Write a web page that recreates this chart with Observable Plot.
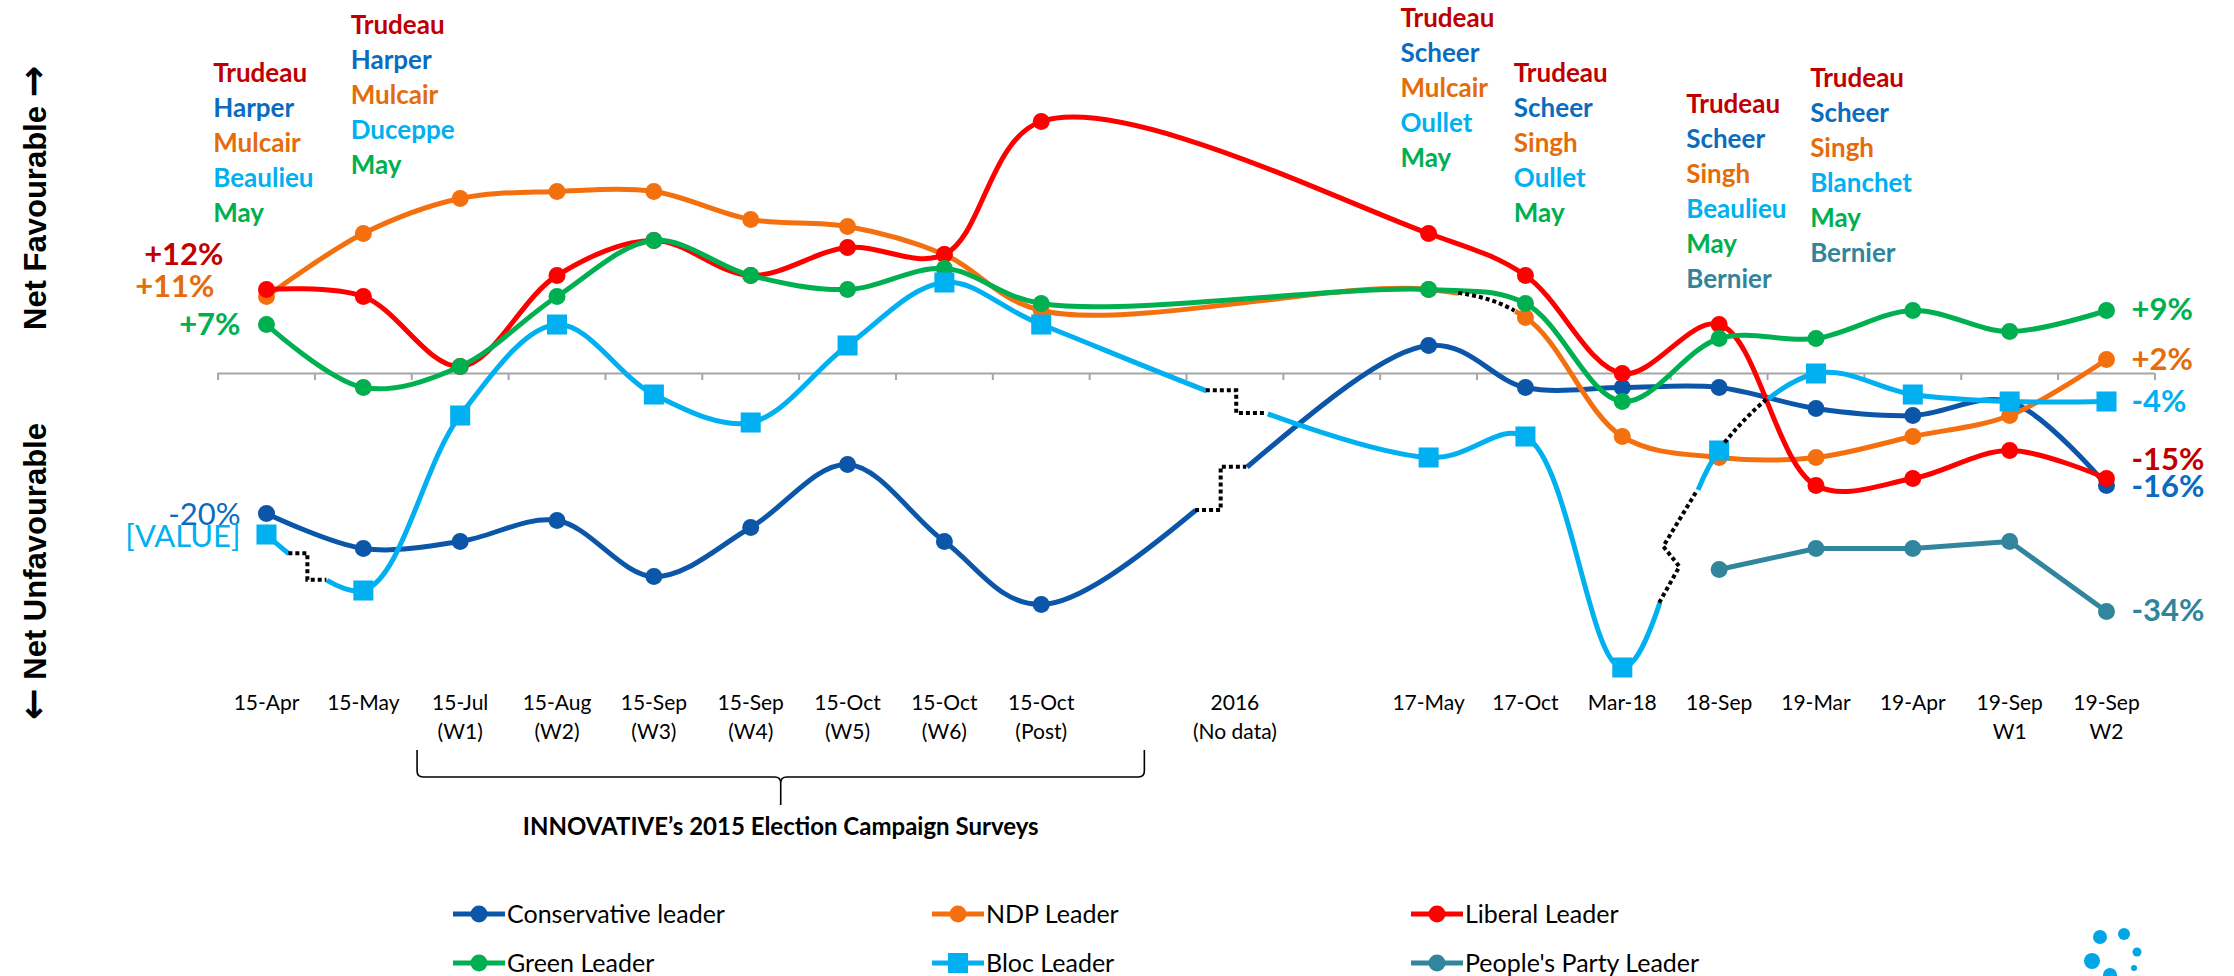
<!DOCTYPE html>
<html><head><meta charset="utf-8">
<script src="https://cdn.jsdelivr.net/npm/d3@7"></script>
<script src="https://cdn.jsdelivr.net/npm/@observablehq/plot@0.6"></script>
<style>
body{margin:0;background:#fff;width:2234px;height:976px;overflow:hidden;font-family:Lato,sans-serif;}
#chart svg{display:block;}
#legend{position:relative;height:106px;}
.item{position:absolute;display:flex;align-items:center;font-size:25px;color:#000;line-height:1;}
.item svg{display:block;}
</style></head><body>
<div id="chart"></div>
<div id="legend"></div>
<script>
// ---- categories (x) ----
const categories = ["15-Apr","15-May","15-Jul\n(W1)","15-Aug\n(W2)","15-Sep\n(W3)","15-Sep\n(W4)","15-Oct\n(W5)","15-Oct\n(W6)","15-Oct\n(Post)","","2016\n(No data)","","17-May","17-Oct","Mar-18","18-Sep","19-Mar","19-Apr","19-Sep\nW1","19-Sep\nW2"];

// ---- series values (net favourability, %) ----
const conservative = [-20,-25,-24,-21,-29,-22,-13,-24,-33,null,null,null,4,-2,-2,-2,-5,-6,-4,-16];
const ndp          = [11,20,25,26,26,22,21,17,9,null,null,null,12,8,-9,-12,-12,-9,-6,2];
const liberal      = [12,11,1,14,19,14,18,17,36,null,null,null,20,14,0,7,-16,-15,-11,-15];
const green        = [7,-2,1,11,19,14,12,15,10,null,null,null,12,10,-4,5,5,9,6,9];
const bloc         = [-23,-31,-6,7,-3,-7,4,13,7,null,null,null,-12,-9,-42,-11,0,-3,-4,-4];
const peoples      = [null,null,null,null,null,null,null,null,null,null,null,null,null,null,null,-28,-25,-25,-24,-34];

const seriesNames = ["Conservative leader","NDP Leader","Liberal Leader","Green Leader","Bloc Leader","People's Party Leader"];
const seriesValues = [conservative, ndp, liberal, green, bloc, peoples];

// ---- end labels ----
const startLabels = ["-20%","+11%","+12%","+7%","[VALUE]",null];
const endLabels   = ["-16%","+2%","-15%","+9%","-4%","-34%"];

// ---- leader name stacks ----
const stackCategories = [0,1,12,13,15,16];
const stackLeaders = [
  ["Trudeau","Harper","Mulcair","Beaulieu","May"],
  ["Trudeau","Harper","Mulcair","Duceppe","May"],
  ["Trudeau","Scheer","Mulcair","Oullet","May"],
  ["Trudeau","Scheer","Singh","Oullet","May"],
  ["Trudeau","Scheer","Singh","Beaulieu","May","Bernier"],
  ["Trudeau","Scheer","Singh","Blanchet","May","Bernier"]
];
const leaderParty = {Trudeau:2,Harper:0,Scheer:0,Mulcair:1,Singh:1,Beaulieu:4,Duceppe:4,Oullet:4,Blanchet:4,May:3,Bernier:5};

const braceText = "INNOVATIVE\u2019s 2015 Election Campaign Surveys";
const axisTitles = ["Net Favourable \u2192","\u2190 Net Unfavourable"];

// ---- styles / layout ----
const lineColors = ["#0b56a8","#f4700f","#ff0000","#00b050","#00b0f0","#31859c"];
const textColors = ["#0a6cc0","#e46c0a","#c00000","#00b050","#00b0f0","#31849b"];
const symbols = ["circle","circle","circle","circle","square","circle"];
const curves = ["catmull-rom","catmull-rom","catmull-rom","catmull-rom","catmull-rom","linear"];
const startDx = [-26,-52,-43,-26,-26], startDy = [2,-9,-34,1,3];
const startWeight = ["normal","bold","bold","bold","normal"];
const endDy = [2,1,-18,0,1,0];
const stackDx = [-0.55,-0.13,-0.29,-0.12,-0.34,-0.06];
const stackTop = [42.9,49.7,50.7,42.9,38.4,42.1];
const lineStep = 5;
const breaks = [
  {s:4, from:0.227, to:0.62, shape:"step"},
  {s:0, from:9.59, to:10.12, shape:"step"},
  {s:4, from:9.70, to:10.33, shape:"step"},
  {s:1, from:12.31, to:12.89, shape:"along"},
  {s:4, from:14.385, to:14.78, shape:"zigzag"},
  {s:4, from:15.06, to:15.5, shape:"along"}
];
const braceFrom = 1.56, braceTo = 9.07;

// ---- build tables ----
const rows = [];
seriesValues.forEach((vals, s) => vals.forEach((v, i) => { if (v != null) rows.push({s, i, v}); }));
const firstOf = s => rows.find(r => r.s === s);
const lastOf = s => rows.filter(r => r.s === s).slice(-1)[0];

const stackRows = [];
stackLeaders.forEach((names, k) => names.forEach((n, j) => stackRows.push({
  x: stackCategories[k] + stackDx[k], y: stackTop[k] - j * lineStep, name: n, color: textColors[leaderParty[n]]
})));

const marks = [
  Plot.ruleY([0], {x1: -0.5, x2: 19.5, stroke: "#a6a6a6", strokeWidth: 2}),
  Plot.ruleX(d3.range(-0.5, 20, 1), {x: d => d, y1: 0, y2: -1, stroke: "#a6a6a6", strokeWidth: 2}),
  Plot.text(d3.range(categories.length), {x: d => d, text: d => categories[d], frameAnchor: "bottom", lineAnchor: "top", dy: 4, fontSize: 21, lineHeight: 1.38, fill: "#000"})
];
seriesValues.forEach((_, s) => {
  const data = rows.filter(r => r.s === s);
  marks.push(Plot.line(data, {x: "i", y: "v", stroke: lineColors[s], strokeWidth: 5, curve: curves[s], strokeLinecap: "butt", strokeLinejoin: "round"}));
  marks.push(Plot.dot(data, {x: "i", y: "v", fill: lineColors[s], r: symbols[s] === "square" ? 11.3 : 8.5, symbol: symbols[s]}));
});
// start labels
seriesValues.forEach((_, s) => {
  if (!startLabels[s]) return;
  const p = firstOf(s);
  marks.push(Plot.text([p], {x: "i", y: "v", text: () => startLabels[s], fill: textColors[s], textAnchor: "end", dx: startDx[s], dy: startDy[s], fontSize: 31, fontWeight: startWeight[s]}));
});
seriesValues.forEach((_, s) => {
  const p = lastOf(s);
  marks.push(Plot.text([p], {x: "i", y: "v", text: () => endLabels[s], fill: textColors[s], textAnchor: "start", dx: 25, dy: endDy[s], fontSize: 31, fontWeight: "bold"}));
});
marks.push(Plot.text(stackRows, {x: "x", y: "y", text: "name", fill: "color", textAnchor: "start", fontSize: 26, fontWeight: "bold"}));
marks.push(Plot.text([axisTitles[0], axisTitles[1]], {text: d => d, y: (d, i) => i === 0 ? 25.1 : -28.3, frameAnchor: "left", textAnchor: "middle", dx: -230, rotate: -90, fontSize: 31, fontWeight: "bold", fontFamily: "'Liberation Sans', Arial, sans-serif", fill: "#000"}));

const plot = Plot.plot({
  width: 2234, height: 870,
  marginLeft: 266, marginRight: 128, marginTop: 10, marginBottom: 185,
  x: {domain: [0, 19], axis: null},
  y: {domain: [-50, 50], range: [723, 23], axis: null},
  style: {fontFamily: "Lato, sans-serif", background: "#fff", overflow: "visible"},
  marks
});
document.getElementById("chart").append(plot);

// ---- post-render decorations through the plot's scales ----
const xs = plot.scale("x");
const svg = d3.select(plot);

// bigger arrows in the axis titles
svg.selectAll("text").each(function() {
  const t = this.textContent;
  const k = axisTitles.indexOf(t);
  if (k < 0) return;
  const sel = d3.select(this);
  sel.text(null);
  const arrowFirst = k === 1;
  const word = arrowFirst ? t.slice(1) : t.slice(0, -1);
  const arrow = arrowFirst ? t[0] : t[t.length - 1];
  const addArrow = () => sel.append("tspan").attr("font-family", "'DejaVu Sans', sans-serif").attr("font-size", 38).text(arrow);
  if (arrowFirst) { addArrow(); sel.append("tspan").text(word); }
  else { sel.append("tspan").text(word); addArrow(); }
});

const lineGs = svg.selectAll('g[aria-label="line"]').nodes();
const pathFor = s => lineGs[s] ? lineGs[s].querySelector("path") : null;
function lengthAtX(path, px) {
  const total = path.getTotalLength();
  for (let l = 0; l <= total; l += 0.5) if (path.getPointAtLength(l).x >= px) return l;
  return total;
}
const gapsBySeries = {};
const overlay = svg.append("g").attr("fill", "none").attr("stroke", "#000").attr("stroke-width", 4).attr("stroke-dasharray", "4 3");
breaks.forEach(b => {
  const path = pathFor(b.s); if (!path) return;
  const L1 = lengthAtX(path, xs.apply(b.from)), L2 = lengthAtX(path, xs.apply(b.to));
  (gapsBySeries[b.s] = gapsBySeries[b.s] || []).push([L1, L2]);
  const P1 = path.getPointAtLength(L1), P2 = path.getPointAtLength(L2);
  let pts;
  if (b.shape === "step") {
    const xm = (P1.x + P2.x) / 2;
    pts = [[P1.x, P1.y], [xm, P1.y], [xm, P2.y], [P2.x, P2.y]];
  } else if (b.shape === "zigzag") {
    pts = [[P1.x, P1.y], [P1.x + 0.32 * (P2.x - P1.x) + 8, P1.y + 0.32 * (P2.y - P1.y)], [(P1.x + P2.x) / 2 - 15, (P1.y + P2.y) / 2], [P2.x, P2.y]];
  } else {
    pts = d3.range(0, 21).map(k => { const p = path.getPointAtLength(L1 + (L2 - L1) * k / 20); return [p.x, p.y]; });
  }
  overlay.append("path").attr("d", d3.line()(pts));
});
Object.entries(gapsBySeries).forEach(([s, gaps]) => {
  const path = pathFor(+s); const total = path.getTotalLength();
  gaps.sort((a, b) => a[0] - b[0]);
  const arr = []; let pos = 0;
  gaps.forEach(([a, b]) => { arr.push(Math.max(0, a - pos), b - a); pos = b; });
  arr.push(total - pos + 1, total);
  path.setAttribute("stroke-dasharray", arr.map(v => v.toFixed(2)).join(" "));
});
// brace
const bx1 = xs.apply(braceFrom), bx2 = xs.apply(braceTo), bc = (bx1 + bx2) / 2;
const fb = 870 - 185;
const yTop = fb + 65, yMid = fb + 92, yTip = fb + 120;
const bp = d3.path();
bp.moveTo(bx1, yTop); bp.lineTo(bx1, yMid - 6); bp.quadraticCurveTo(bx1, yMid, bx1 + 6, yMid);
bp.lineTo(bc - 6, yMid); bp.quadraticCurveTo(bc, yMid, bc, yMid + 6); bp.lineTo(bc, yTip);
bp.moveTo(bc, yMid + 6); bp.quadraticCurveTo(bc, yMid, bc + 6, yMid);
bp.lineTo(bx2 - 6, yMid); bp.quadraticCurveTo(bx2, yMid, bx2, yMid - 6); bp.lineTo(bx2, yTop);
svg.append("path").attr("d", bp.toString()).attr("fill", "none").attr("stroke", "#000").attr("stroke-width", 1.6);
svg.append("text").attr("x", bc).attr("y", yTip + 22).attr("dy", "0.35em").attr("text-anchor", "middle")
  .attr("font-size", 24).attr("font-weight", "bold").attr("font-family", "Lato, sans-serif").text(braceText);

// ---- legend ----
const legend = document.getElementById("legend");
const legCols = [451, 930, 1409], legRows = [43, 92];
seriesNames.forEach((name, s) => {
  const div = document.createElement("div");
  div.className = "item";
  div.style.left = legCols[s % 3] + "px";
  div.style.top = (legRows[Math.floor(s / 3)] - 12) + "px";
  const mk = symbols[s] === "square"
    ? `<rect x="18" y="2" width="20" height="20" fill="${lineColors[s]}"/>`
    : `<circle cx="28" cy="12" r="8.5" fill="${lineColors[s]}"/>`;
  div.innerHTML = `<svg width="56" height="24"><line x1="2" x2="54" y1="12" y2="12" stroke="${lineColors[s]}" stroke-width="5"/>${mk}</svg><span>${name}</span>`;
  legend.append(div);
});
const logo = d3.select(legend).append("svg").style("position", "absolute").style("left", "0px").style("top", "0px")
  .attr("width", 2234).attr("height", 106);
[[2100,67,7],[2124,64,6],[2137,82,4.5],[2092,91,8],[2134,98,3],[2110,105,7]].forEach(([cx, cy, r]) =>
  logo.append("circle").attr("cx", cx).attr("cy", cy).attr("r", r).attr("fill", "#00a6e6"));
</script>
</body></html>
